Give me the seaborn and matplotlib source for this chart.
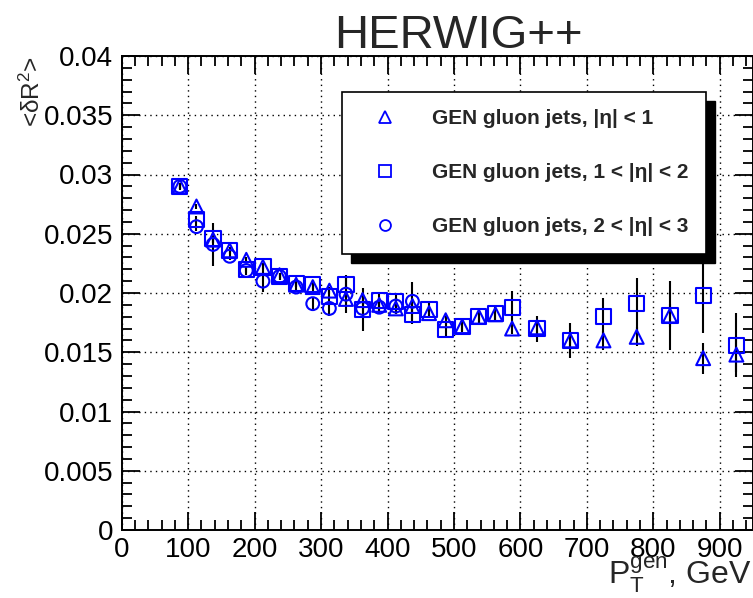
import numpy as np
import pandas as pd
import matplotlib
matplotlib.use("Agg")
import matplotlib.pyplot as plt
import seaborn as sns
from matplotlib.lines import Line2D
from matplotlib.patches import Rectangle
from matplotlib.ticker import MultipleLocator, FuncFormatter

# ---------------- data ----------------
pt_bins = [87.5, 112.5, 137.5, 162.5, 187.5, 212.5, 237.5, 262.5, 287.5, 312.5,
           337.5, 362.5, 387.5, 412.5, 437.5, 462.5, 487.5, 512.5, 537.5, 562.5,
           587.5, 625, 675, 725, 775, 825, 875, 925]

eta1_vals = [0.0290, 0.0273, 0.0245, 0.0236, 0.0228, 0.0222, 0.0215, 0.0207, 0.0205, 0.0202,
             0.0195, 0.0194, 0.0190, 0.0187, 0.0189, 0.0183, 0.0177, 0.0172, 0.0180, 0.0182,
             0.0170, 0.0171, 0.0160, 0.0160, 0.0163, 0.0181, 0.0145, 0.0148]
eta1_errs = [0.0002, 0.0002, 0.0003, 0.0002, 0.0002, 0.0002, 0.0002, 0.0002, 0.0003, 0.0003,
             0.0004, 0.0004, 0.0004, 0.0004, 0.0005, 0.0004, 0.0004, 0.0004, 0.0005, 0.0005,
             0.0005, 0.0006, 0.0006, 0.0008, 0.0008, 0.0010, 0.0013, 0.0015]

eta2_vals = [0.0290, 0.0262, 0.0246, 0.0236, 0.0220, 0.0222, 0.0214, 0.0208, 0.0207, 0.0197,
             0.0207, 0.0186, 0.0194, 0.0193, 0.0182, 0.0186, 0.0169, 0.0172, 0.0180, 0.0183,
             0.0188, 0.0170, 0.0160, 0.0180, 0.0191, 0.0181, 0.0198, 0.0156]
eta2_errs = [0.0002, 0.0003, 0.0004, 0.0003, 0.0003, 0.0003, 0.0003, 0.0003, 0.0004, 0.0005,
             0.0007, 0.0018, 0.0006, 0.0006, 0.0008, 0.0006, 0.0006, 0.0005, 0.0005, 0.0007,
             0.0014, 0.0011, 0.0015, 0.0016, 0.0022, 0.0029, 0.0032, 0.0027]

pt_bins3 = pt_bins[:15]
eta3_vals = [0.0290, 0.0256, 0.0241, 0.0231, 0.0219, 0.0210, 0.0214, 0.0205, 0.0191, 0.0187,
             0.0199, 0.0187, 0.0188, 0.0189, 0.0193]
eta3_errs = [0.0003, 0.0004, 0.0018, 0.0003, 0.0004, 0.0009, 0.0003, 0.0003, 0.0006, 0.0006,
             0.0016, 0.0008, 0.0006, 0.0007, 0.0016]

labels = ["GEN gluon jets, |η| < 1",
          "GEN gluon jets, 1 < |η| < 2",
          "GEN gluon jets, 2 < |η| < 3"]
x_ticks = [0, 100, 200, 300, 400, 500, 600, 700, 800, 900]
y_ticks = [0, 0.005, 0.01, 0.015, 0.02, 0.025, 0.03, 0.035, 0.04]

series = [
    (pt_bins, eta1_vals, eta1_errs, labels[0], "^", 100),
    (pt_bins, eta2_vals, eta2_errs, labels[1], "s", 120),
    (pt_bins3, eta3_vals, eta3_errs, labels[2], "o", 85),
]

# ---------------- style ----------------
sns.set_theme(style="ticks")
plt.rcParams["font.family"] = ["Liberation Sans", "DejaVu Sans"]
plt.rcParams["mathtext.fontset"] = "custom"
plt.rcParams["mathtext.rm"] = "Liberation Sans"
plt.rcParams["mathtext.it"] = "Liberation Sans:italic"
plt.rcParams["mathtext.bf"] = "Liberation Sans:bold"

W, H = 753, 598
fig = plt.figure(figsize=(W / 100, H / 100), dpi=100)
fig.patch.set_facecolor("white")
ax_left, ax_right, ax_top, ax_bottom = 121.7, 753.0, 56.0, 530.0
ax = fig.add_axes([ax_left / W, 1 - ax_bottom / H, (ax_right - ax_left) / W, (ax_bottom - ax_top) / H])
ax.set_facecolor("white")

blue = "#0000ff"
handles = []
for xs, ys, es, lab, mk, sz in series:
    ax.errorbar(xs, ys, yerr=es, fmt="none", ecolor="black", elinewidth=1.5,
                capsize=0, zorder=2)
    df = pd.DataFrame({"pt": xs, "dr2": ys})
    sns.scatterplot(data=df, x="pt", y="dr2", marker=mk, s=sz, facecolor="none",
                    edgecolor=blue, linewidth=1.5, ax=ax, legend=False, zorder=3)
    handles.append(Line2D([], [], linestyle="none", marker=mk, markersize=np.sqrt(sz) * 0.85,
                          markerfacecolor="none", markeredgecolor=blue, markeredgewidth=1.3,
                          label=lab))

ax.set_xlim(0, 950)
ax.set_ylim(0, 0.04)
ax.set_xticks(x_ticks)
ax.set_yticks(y_ticks)
ax.xaxis.set_minor_locator(MultipleLocator(20))
ax.yaxis.set_minor_locator(MultipleLocator(0.001))
fmt = FuncFormatter(lambda v, p: f"{v:g}")
ax.xaxis.set_major_formatter(fmt)
ax.yaxis.set_major_formatter(fmt)
ax.tick_params(which="both", direction="in", top=True, right=True, colors="black",
               width=1.3, labelsize=20)
ax.tick_params(which="major", length=13)
ax.tick_params(which="minor", length=7)
ax.tick_params(axis="y", pad=6)
ax.tick_params(axis="x", pad=5)
for sp in ax.spines.values():
    sp.set_color("black")
    sp.set_linewidth(1.4)
ax.grid(True, which="major", color="black", linestyle=(0, (1, 3)), linewidth=1.0)
ax.set_axisbelow(True)

ax.set_xlabel(r"P$_\mathrm{T}^\mathrm{gen}$, GeV", fontsize=23, loc="right")
ax.xaxis.set_label_coords(0.997, -0.052)
ax.set_ylabel(r"<δR$^2$>", fontsize=17.5, loc="top")
ax.yaxis.set_label_coords(-0.121, 1.0)

fig.text(458 / W, 1 - 48 / H, "HERWIG++", ha="center", va="baseline", fontsize=34)

leg = ax.legend(handles=handles, loc="upper left",
                bbox_to_anchor=(341.7 / W, 1 - 91.5 / H), bbox_transform=fig.transFigure,
                borderaxespad=0, frameon=True, fancybox=False, framealpha=1,
                edgecolor="black", prop={"weight": "bold", "size": 15},
                borderpad=0.84, labelspacing=1.69, handlelength=2.45, handletextpad=1.03)
leg.get_frame().set_linewidth(1.2)
leg.set_zorder(6)

fig.canvas.draw()
bb = leg.get_frame().get_window_extent()
inv = ax.transAxes.inverted()
(x0, y0), (x1, y1) = inv.transform([[bb.x0 + 9, bb.y0 - 9], [bb.x1 + 9, bb.y1 - 9]])
ax.add_patch(Rectangle((x0, y0), x1 - x0, y1 - y0, transform=ax.transAxes,
                       facecolor="black", edgecolor="black", zorder=5.5, clip_on=False))

fig.savefig("out.png", dpi=100, facecolor="white")
